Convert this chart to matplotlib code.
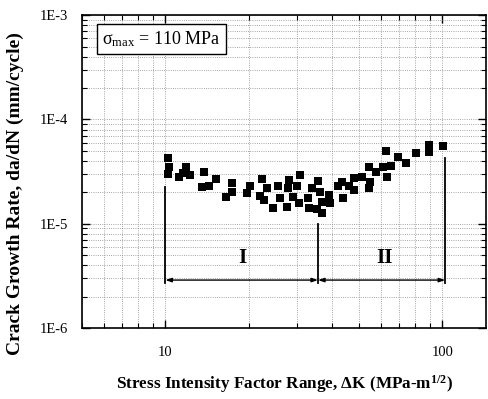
import numpy as np
import matplotlib.pyplot as plt
from matplotlib.ticker import LogLocator, NullFormatter, FixedLocator, FixedFormatter

plt.rcParams['font.family'] = ['Liberation Serif', 'DejaVu Serif']
plt.rcParams['mathtext.fontset'] = 'custom'
plt.rcParams['mathtext.rm'] = 'Liberation Serif'
plt.rcParams['mathtext.it'] = 'Liberation Serif:italic'
plt.rcParams['mathtext.bf'] = 'Liberation Serif:bold'

# stress intensity factor range (MPa m^1/2) and crack growth rate (mm/cycle)
dK = [10.25, 10.34, 10.25, 11.24, 11.62, 11.92, 12.32, 13.84, 13.62, 14.32,
      15.30, 16.63, 17.34, 17.34, 19.66, 20.16, 22.27, 21.91, 22.65, 23.22,
      24.42, 25.46, 25.88, 27.44, 27.67, 27.91, 28.85, 29.83, 30.33, 30.59,
      32.70, 32.97, 33.81, 35.54, 36.14, 35.25, 36.75, 36.75, 38.96, 39.29,
      42.01, 43.43, 43.79, 46.03, 47.99, 47.99, 51.30, 54.39, 54.85, 54.39,
      57.67, 61.13, 63.21, 65.36, 62.69, 69.27, 74.06, 80.50, 89.72, 89.72,
      100.8]
dadN = [4.25e-5, 3.49e-5, 2.99e-5, 2.80e-5, 3.05e-5, 3.49e-5, 2.92e-5, 3.12e-5, 2.24e-5, 2.29e-5,
        2.68e-5, 1.80e-5, 2.45e-5, 2.01e-5, 1.96e-5, 2.29e-5, 2.68e-5, 1.84e-5, 1.68e-5, 2.19e-5,
        1.41e-5, 2.29e-5, 1.76e-5, 1.44e-5, 2.19e-5, 2.62e-5, 1.80e-5, 2.29e-5, 1.57e-5, 2.92e-5,
        1.76e-5, 1.41e-5, 2.19e-5, 2.56e-5, 2.01e-5, 1.38e-5, 1.26e-5, 1.61e-5, 1.88e-5, 1.57e-5,
        2.29e-5, 2.50e-5, 1.76e-5, 2.29e-5, 2.73e-5, 2.10e-5, 2.80e-5, 2.19e-5, 2.50e-5, 3.49e-5,
        3.12e-5, 3.49e-5, 2.80e-5, 3.56e-5, 4.96e-5, 4.35e-5, 3.81e-5, 4.75e-5, 5.67e-5, 4.86e-5,
        5.55e-5]

# region boundaries
k_start, k_mid, k_end = 10.0, 35.6, 102.5
y_arrow = 2.88e-6
line_tops = [2.24e-5, 1.0e-5, 4.26e-5]
regions = ['I', 'II']
region_x = [19.0, 62.0]
region_y = 4.7e-6

y_ticks = [1e-6, 1e-5, 1e-4, 1e-3]
y_ticklabels = ['1E-6', '1E-5', '1E-4', '1E-3']

fig = plt.figure(figsize=(4.88, 3.99), dpi=100)
ax = fig.add_axes([0.168, 0.178, 0.828, 0.784])

ax.scatter(dK, dadN, marker='s', s=30, color='black', zorder=3, linewidths=0)

ax.set_xscale('log')
ax.set_yscale('log')
ax.set_xlim(5, 144)
ax.set_ylim(1e-6, 1e-3)

ax.yaxis.set_major_locator(FixedLocator(y_ticks))
ax.yaxis.set_major_formatter(FixedFormatter(y_ticklabels))
ax.yaxis.set_minor_locator(LogLocator(base=10, subs=np.arange(2, 10)))
ax.yaxis.set_minor_formatter(NullFormatter())
ax.xaxis.set_minor_locator(LogLocator(base=10, subs=np.arange(2, 10)))
ax.xaxis.set_minor_formatter(NullFormatter())
ax.set_xticks([10, 100])
ax.set_xticklabels(['10', '100'])

ax.tick_params(which='both', direction='in', top=True, right=True, labelsize=10.5)
ax.tick_params(which='major', length=6, width=1)
ax.tick_params(which='minor', length=3.5, width=0.8)
ax.tick_params(axis='x', pad=13)
ax.tick_params(axis='y', pad=10)
for sp in ax.spines.values():
    sp.set_linewidth(1.2)

ax.grid(True, which='both', linestyle=':', linewidth=0.6, color='#888888')

# boundary lines and arrows
for xv, yt in zip([k_start, k_mid, k_end], line_tops):
    ax.plot([xv, xv], [y_arrow * 0.93, yt], color='black', lw=1.3, zorder=2)
arrow_kw = dict(arrowstyle='<|-|>,head_length=0.35,head_width=0.12', color='black', lw=1.0,
                shrinkA=0, shrinkB=0)
ax.annotate('', xy=(k_start, y_arrow), xytext=(k_mid, y_arrow), arrowprops=arrow_kw)
ax.annotate('', xy=(k_mid, y_arrow), xytext=(k_end, y_arrow), arrowprops=arrow_kw)
for lab, xr in zip(regions, region_x):
    ax.text(xr, region_y, lab, fontsize=15, fontweight='bold', ha='center', va='center')

ax.text(0.05, 0.955, 'σ$_{\\rm max}$ = 110 MPa', transform=ax.transAxes, fontsize=13,
        ha='left', va='top',
        bbox=dict(boxstyle='square,pad=0.3', facecolor='white', edgecolor='black', lw=1.0))

ax.set_xlabel(r'Stress Intensity Factor Range, $\mathbf{\Delta}$K (MPa-m$^{\mathbf{1/2}}$)',
              fontsize=12.3, fontweight='bold')
ax.xaxis.set_label_coords(0.5, -0.145)
ax.set_ylabel('Crack Growth Rate, da/dN (mm/cycle)', fontsize=14, fontweight='bold')
ax.yaxis.set_label_coords(-0.143, 0.43)

fig.savefig('out.png', dpi=100)
